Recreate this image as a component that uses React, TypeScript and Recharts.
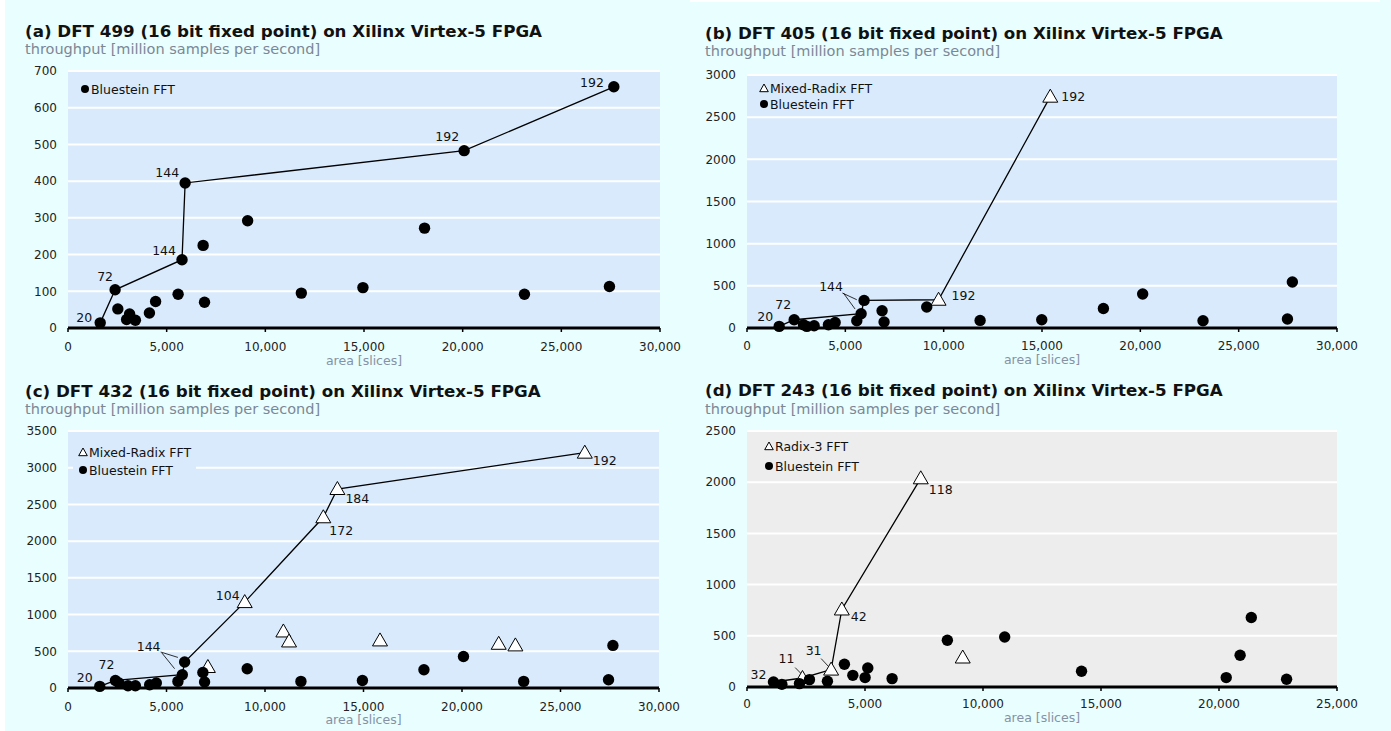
import React from 'react';
import { ScatterChart, Scatter, XAxis, YAxis, CartesianGrid } from 'recharts';

// ---- data (area in slices, throughput in Msamples/s) ----

// (a) DFT 499
const bluestein499 = [
  { x: 1632, y: 14 }, { x: 2387, y: 104 }, { x: 2524, y: 52 }, { x: 2970, y: 23 },
  { x: 3122, y: 38 }, { x: 3416, y: 21 }, { x: 4126, y: 41 }, { x: 4440, y: 72 },
  { x: 5580, y: 92 }, { x: 5778, y: 186 }, { x: 5935, y: 395 }, { x: 6848, y: 225 },
  { x: 6918, y: 70 }, { x: 9103, y: 292 }, { x: 11824, y: 95 }, { x: 14946, y: 110 },
  { x: 18068, y: 272 }, { x: 20075, y: 483 }, { x: 23131, y: 92 }, { x: 27438, y: 113 },
  { x: 27661, y: 657 },
];
const frontier499 = [
  { x: 1632, y: 14, n: 20 }, { x: 2387, y: 104, n: 72 }, { x: 5778, y: 186, n: 144 },
  { x: 5935, y: 395, n: 144 }, { x: 20075, y: 483, n: 192 }, { x: 27661, y: 657, n: 192 },
];

// (b) DFT 405
const bluestein405 = [
  { x: 1636, y: 19 }, { x: 2398, y: 98 }, { x: 2870, y: 39 }, { x: 3043, y: 19 },
  { x: 3414, y: 27 }, { x: 4140, y: 39 }, { x: 4481, y: 66 }, { x: 5583, y: 86 },
  { x: 5802, y: 169 }, { x: 5954, y: 327 }, { x: 6868, y: 205 }, { x: 6970, y: 71 },
  { x: 9139, y: 249 }, { x: 11853, y: 90 }, { x: 14988, y: 98 }, { x: 18122, y: 232 },
  { x: 20119, y: 403 }, { x: 23188, y: 86 }, { x: 27481, y: 107 }, { x: 27730, y: 545 },
];
const mixedRadix405 = [{ x: 9740, y: 335 }, { x: 15421, y: 2743 }];
const frontier405 = [
  { x: 1636, y: 19, n: 20 }, { x: 2398, y: 98, n: 72 }, { x: 5802, y: 169, n: 144 },
  { x: 5954, y: 327, n: 144 }, { x: 9740, y: 335, n: 192 }, { x: 15421, y: 2743, n: 192 },
];

// (c) DFT 432
const bluestein432 = [
  { x: 1612, y: 22 }, { x: 2406, y: 103 }, { x: 2590, y: 68 }, { x: 3046, y: 31 },
  { x: 3420, y: 31 }, { x: 4146, y: 45 }, { x: 4484, y: 68 }, { x: 5580, y: 90 },
  { x: 5803, y: 181 }, { x: 5920, y: 354 }, { x: 6847, y: 212 }, { x: 6933, y: 82 },
  { x: 9097, y: 262 }, { x: 11824, y: 90 }, { x: 14946, y: 103 }, { x: 18068, y: 249 },
  { x: 20075, y: 430 }, { x: 23131, y: 90 }, { x: 27438, y: 113 }, { x: 27661, y: 580 },
];
const mixedRadix432 = [
  { x: 7100, y: 286 }, { x: 8970, y: 1170 }, { x: 10932, y: 770 }, { x: 11220, y: 634 },
  { x: 12960, y: 2325 }, { x: 13675, y: 2710 }, { x: 15838, y: 648 }, { x: 21863, y: 602 },
  { x: 22710, y: 580 }, { x: 26233, y: 3205 },
];
const frontier432 = [
  { x: 1612, y: 22, n: 20 }, { x: 2406, y: 103, n: 72 }, { x: 5803, y: 181, n: 144 },
  { x: 5920, y: 354, n: 144 }, { x: 8970, y: 1170, n: 104 }, { x: 12960, y: 2325, n: 172 },
  { x: 13675, y: 2710, n: 184 }, { x: 26233, y: 3205, n: 192 },
];

// (d) DFT 243
const bluestein243 = [
  { x: 1122, y: 49 }, { x: 1477, y: 26 }, { x: 2223, y: 33 }, { x: 2646, y: 72 },
  { x: 3408, y: 56 }, { x: 4128, y: 222 }, { x: 4484, y: 114 }, { x: 5004, y: 92 },
  { x: 5118, y: 186 }, { x: 6148, y: 82 }, { x: 8490, y: 457 }, { x: 10919, y: 489 },
  { x: 14175, y: 154 }, { x: 20306, y: 92 }, { x: 20895, y: 310 }, { x: 21369, y: 679 },
  { x: 22864, y: 75 },
];
const radix3_243 = [
  { x: 2350, y: 88 }, { x: 3565, y: 170 }, { x: 4018, y: 757 }, { x: 7363, y: 2038 },
  { x: 9141, y: 288 },
];
const frontier243 = [
  { x: 1122, y: 49, n: 32 }, { x: 2350, y: 88, n: 11 }, { x: 3565, y: 170, n: 31 },
  { x: 4018, y: 757, n: 42 }, { x: 7363, y: 2038, n: 118 },
];

const xTicks30k = [0, 5000, 10000, 15000, 20000, 25000, 30000];
const xTicks25k = [0, 5000, 10000, 15000, 20000, 25000];
const yTicks700 = [0, 100, 200, 300, 400, 500, 600, 700];
const yTicks3000 = [0, 500, 1000, 1500, 2000, 2500, 3000];
const yTicks3500 = [0, 500, 1000, 1500, 2000, 2500, 3000, 3500];
const yTicks2500 = [0, 500, 1000, 1500, 2000, 2500];

// label placement for the frontier numbers (offsets from the point, px)
type Place = { dx: number; dy: number; anchor: string; hide?: boolean; leader?: number[][] };
const placeA: Place[] = [
  { dx: -8, dy: -5, anchor: 'end' },
  { dx: -10, dy: -13, anchor: 'middle' },
  { dx: -6, dy: -9, anchor: 'end' },
  { dx: -6, dy: -10, anchor: 'end' },
  { dx: -5, dy: -14, anchor: 'end' },
  { dx: -10, dy: -4, anchor: 'end' },
];
const placeB: Place[] = [
  { dx: -6, dy: -10, anchor: 'end' },
  { dx: -11, dy: -15, anchor: 'middle' },
  { dx: 0, dy: 0, anchor: 'middle', hide: true, leader: [[-17.7, -20.7, -6, -4.7]] },
  { dx: -33, dy: -14, anchor: 'middle', leader: [[-21.7, -7.4, -7.3, -0.7]] },
  { dx: 13, dy: -4, anchor: 'start' },
  { dx: 11, dy: 0, anchor: 'start' },
];
const placeC: Place[] = [
  { dx: -7, dy: -9, anchor: 'end' },
  { dx: -9, dy: -16, anchor: 'middle' },
  { dx: 0, dy: 0, anchor: 'middle', hide: true, leader: [[-20.4, -21.7, -7.7, -6]] },
  { dx: -36, dy: -16, anchor: 'middle', leader: [[-24, -10, -6.7, -4.6]] },
  { dx: -5, dy: -7, anchor: 'end' },
  { dx: 6, dy: 13, anchor: 'start' },
  { dx: 8, dy: 9, anchor: 'start' },
  { dx: 8, dy: 8, anchor: 'start' },
];
const placeD: Place[] = [
  { dx: -7, dy: -7, anchor: 'end' },
  { dx: -16, dy: -19, anchor: 'middle', leader: [[-7.3, -10.4, 0, -3]] },
  { dx: -17.5, dy: -19, anchor: 'middle', leader: [[-10, -11, -3, -3.5]] },
  { dx: 9, dy: 7, anchor: 'start' },
  { dx: 8, dy: 11, anchor: 'start' },
];

const FONT = '"DejaVu Sans", Verdana, sans-serif';
const BLUE = '#d8eafc';
const GREY = '#ededed';

const Dot = (props: any) => {
  const { cx, cy } = props;
  if (cx == null || cy == null) return null;
  return <circle cx={cx} cy={cy} r={5.7} fill="#000" />;
};

const Tri = (props: any) => {
  const { cx, cy } = props;
  if (cx == null || cy == null) return null;
  return (
    <path
      d={`M${cx},${cy - 7.5} L${cx + 7.5},${cy + 5.5} L${cx - 7.5},${cy + 5.5} Z`}
      fill="#fff"
      stroke="#000"
      strokeWidth={1}
    />
  );
};

const FrontierLabel = (props: any) => {
  const { cx, cy, payload } = props;
  if (cx == null || cy == null || !payload) return null;
  const p: Place = payload.place;
  return (
    <g>
      {(p.leader || []).map((l, i) => (
        <line key={i} x1={cx + l[0]} y1={cy + l[1]} x2={cx + l[2]} y2={cy + l[3]} stroke="#000" strokeWidth={0.8} />
      ))}
      {!p.hide && (
        <text x={cx + p.dx} y={cy + p.dy} textAnchor={p.anchor} dominantBaseline="central" fontSize={12.5} fontFamily={FONT} fill="#111">
          {payload.n}
        </text>
      )}
    </g>
  );
};

type LegendItem = { label: string; kind: 'tri' | 'dot'; gy: number };

type PanelProps = {
  title: string;
  box: [number, number, number, number];
  plot: [number, number, number, number];
  titleY: number;
  subY: number;
  tickY: number;
  areaY: number;
  xMax: number;
  xTicks: number[];
  yMax: number;
  yTicks: number[];
  fill: string;
  bluestein: { x: number; y: number }[];
  mixed?: { x: number; y: number }[];
  frontier: { x: number; y: number; n: number }[];
  places: Place[];
  legendX: number;
  legendBox: [number, number, number];
  legend: LegendItem[];
};

const Panel = (pp: PanelProps) => {
  const [bx, by, bw, bh] = pp.box;
  const [px1, py1, px2, py2] = pp.plot;
  const xAxisH = 30;
  const frontierData = pp.frontier.map((d, i) => ({ ...d, place: pp.places[i] }));
  const tx = bx + (bx === 0 ? 25 : 15);
  return (
    <>
      <div style={{ position: 'absolute', left: tx, top: pp.titleY - 11, fontFamily: FONT, fontWeight: 'bold', fontSize: 16.7, color: '#111', whiteSpace: 'nowrap', lineHeight: '22px' }}>
        {pp.title}
      </div>
      <div style={{ position: 'absolute', left: tx, top: pp.subY - 10, fontFamily: FONT, fontSize: 14.5, color: '#7c8796', whiteSpace: 'nowrap', lineHeight: '20px' }}>
        throughput [million samples per second]
      </div>
      <div style={{ position: 'absolute', left: bx, top: by }}>
        <ScatterChart
          width={bw}
          height={bh}
          margin={{ top: py1 - by, right: bx + bw - px2, bottom: by + bh - py2 - xAxisH, left: 0 }}
        >
          <CartesianGrid vertical={false} stroke="#ffffff" strokeWidth={2} fill={pp.fill} fillOpacity={1} />
          <XAxis
            type="number"
            dataKey="x"
            domain={[0, pp.xMax]}
            ticks={pp.xTicks}
            interval={0}
            height={xAxisH}
            axisLine={{ stroke: '#000', strokeWidth: 3 }}
            tickLine={{ stroke: '#000', strokeWidth: 1.5 }}
            tickSize={4}
            tickMargin={pp.tickY - py2 - 10}
            tick={{ fill: '#222', fontSize: 12, fontFamily: FONT }}
            tickFormatter={(v: number) => v.toLocaleString('en-US')}
          />
          <YAxis
            type="number"
            dataKey="y"
            domain={[0, pp.yMax]}
            ticks={pp.yTicks}
            interval={0}
            width={px1 - bx}
            axisLine={false}
            tickLine={false}
            tickSize={0}
            tickMargin={11}
            tick={{ fill: '#222', fontSize: 12, fontFamily: FONT }}
          />
          <Scatter
            data={frontierData}
            line={{ stroke: '#000', strokeWidth: 1.3 }}
            lineType="joint"
            shape={FrontierLabel}
            isAnimationActive={false}
          />
          {pp.mixed && <Scatter data={pp.mixed} shape={Tri} isAnimationActive={false} />}
          <Scatter data={pp.bluestein} shape={Dot} isAnimationActive={false} />
        </ScatterChart>
      </div>
      <div style={{ position: 'absolute', left: (px1 + px2) / 2 - 60, width: 120, textAlign: 'center', top: pp.areaY - 8, fontFamily: FONT, fontSize: 12.5, color: '#8592a6', lineHeight: '16px' }}>
        area [slices]
      </div>
      <div
        style={{
          position: 'absolute',
          left: pp.legendX - 10,
          top: pp.legendBox[0],
          width: pp.legendBox[2] - pp.legendX + 10,
          height: pp.legendBox[1] - pp.legendBox[0],
          background: pp.fill,
        }}
      />
      {pp.legend.map((it) => (
        <div key={it.label} style={{ position: 'absolute', left: pp.legendX - 5, top: it.gy - 8, height: 16, display: 'flex', alignItems: 'center', fontFamily: FONT, fontSize: 12.5, color: '#111', whiteSpace: 'nowrap' }}>
          <svg width={10} height={10} style={{ marginRight: 1 }}>
            {it.kind === 'dot' ? (
              <circle cx={5} cy={5} r={4} fill="#000" />
            ) : (
              <path d="M5,1 L9.3,8.7 L0.7,8.7 Z" fill="#fff" stroke="#000" strokeWidth={1} />
            )}
          </svg>
          {it.label}
        </div>
      ))}
    </>
  );
};

export default function App() {
  return (
    <div style={{ position: 'fixed', left: 0, top: 0, width: 1391, height: 731, background: '#ffffff', overflow: 'hidden' }}>
      <div style={{ position: 'absolute', left: 5, top: 0, width: 1386, height: 731, background: '#e9fefe' }} />
      <div style={{ position: 'absolute', left: 690, top: 0, width: 690, height: 2, background: '#ffffff' }} />
      <Panel
        title="(a) DFT 499 (16 bit fixed point) on Xilinx Virtex-5 FPGA"
        box={[0, 60, 690, 310]}
        plot={[68, 71, 660, 328]}
        titleY={31}
        subY={49}
        tickY={348}
        areaY={361}
        xMax={30000}
        xTicks={xTicks30k}
        yMax={700}
        yTicks={yTicks700}
        fill={BLUE}
        bluestein={bluestein499}
        frontier={frontier499}
        places={placeA}
        legendX={85}
        legendBox={[80, 99, 180]}
        legend={[{ label: 'Bluestein FFT', kind: 'dot', gy: 89 }]}
      />
      <Panel
        title="(b) DFT 405 (16 bit fixed point) on Xilinx Virtex-5 FPGA"
        box={[690, 60, 701, 310]}
        plot={[747, 75, 1337, 328]}
        titleY={33}
        subY={51}
        tickY={347}
        areaY={360}
        xMax={30000}
        xTicks={xTicks30k}
        yMax={3000}
        yTicks={yTicks3000}
        fill={BLUE}
        bluestein={bluestein405}
        mixed={mixedRadix405}
        frontier={frontier405}
        places={placeB}
        legendX={764}
        legendBox={[80, 112, 876]}
        legend={[
          { label: 'Mixed-Radix FFT', kind: 'tri', gy: 88 },
          { label: 'Bluestein FFT', kind: 'dot', gy: 104 },
        ]}
      />
      <Panel
        title="(c) DFT 432 (16 bit fixed point) on Xilinx Virtex-5 FPGA"
        box={[0, 420, 690, 311]}
        plot={[68, 431, 659, 688]}
        titleY={391}
        subY={409}
        tickY={708}
        areaY={720}
        xMax={30000}
        xTicks={xTicks30k}
        yMax={3500}
        yTicks={yTicks3500}
        fill={BLUE}
        bluestein={bluestein432}
        mixed={mixedRadix432}
        frontier={frontier432}
        places={placeC}
        legendX={83}
        legendBox={[441, 480, 196]}
        legend={[
          { label: 'Mixed-Radix FFT', kind: 'tri', gy: 452 },
          { label: 'Bluestein FFT', kind: 'dot', gy: 470 },
        ]}
      />
      <Panel
        title="(d) DFT 243 (16 bit fixed point) on Xilinx Virtex-5 FPGA"
        box={[690, 420, 701, 311]}
        plot={[747, 431, 1337, 687]}
        titleY={390}
        subY={409}
        tickY={705}
        areaY={718}
        xMax={25000}
        xTicks={xTicks25k}
        yMax={2500}
        yTicks={yTicks2500}
        fill={GREY}
        bluestein={bluestein243}
        mixed={radix3_243}
        frontier={frontier243}
        places={placeD}
        legendX={769}
        legendBox={[436, 476, 860]}
        legend={[
          { label: 'Radix-3 FFT', kind: 'tri', gy: 446 },
          { label: 'Bluestein FFT', kind: 'dot', gy: 466 },
        ]}
      />
    </div>
  );
}
